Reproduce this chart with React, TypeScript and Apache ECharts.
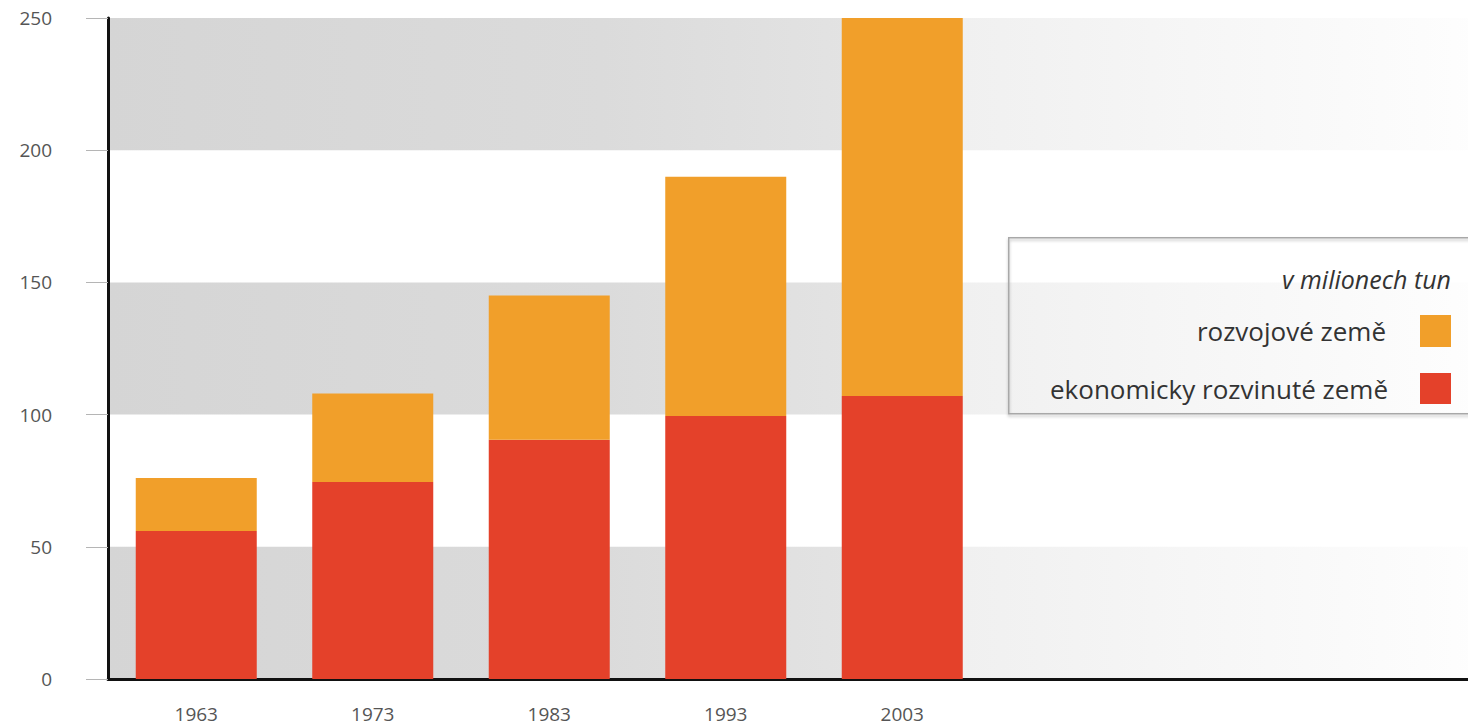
import React, { useEffect, useRef } from "react";
import * as echarts from "echarts";

const years = ["1963", "1973", "1983", "1993", "2003"];
const padCategories = ["", "", ""];
const developed = [56, 74.5, 90.5, 99.5, 107];
const developing = [20, 33.5, 54.5, 90.5, 143];
const yTicks = { min: 0, max: 250, interval: 50 };
const legendTitle = "v milionech tun";
const seriesNames = ["rozvojové země", "ekonomicky rozvinuté země"];

const ORANGE = "#f19f2a";
const RED = "#e4412a";
const FONT = "'Open Sans', 'Noto Sans', sans-serif";

export default function App() {
  const ref = useRef<HTMLDivElement>(null);
  useEffect(() => {
    if (!ref.current) return;
    const chart = echarts.init(ref.current, undefined, { renderer: "svg" });
    const bandGradient = new echarts.graphic.LinearGradient(0, 0, 1, 0, [
      { offset: 0, color: "#d5d5d5" },
      { offset: 0.35, color: "#dbdbdb" },
      { offset: 0.6, color: "#e6e6e6" },
      { offset: 0.605, color: "#f0f0f0" },
      { offset: 0.93, color: "#fcfcfc" },
      { offset: 1, color: "#ffffff" },
    ]);
    chart.setOption({
      animation: false,
      backgroundColor: "#ffffff",
      grid: { left: 108, top: 18, width: 1412, height: 661, containLabel: false },
      xAxis: {
        type: "category",
        data: [...years, ...padCategories],
        axisLine: { show: true, lineStyle: { color: "#111", width: 3 } },
        axisTick: { show: false },
        axisLabel: { color: "#555", fontSize: 19, fontFamily: FONT, margin: 25 },
        splitLine: { show: false },
      },
      yAxis: {
        type: "value",
        min: yTicks.min,
        max: yTicks.max,
        interval: yTicks.interval,
        axisLine: { show: true, lineStyle: { color: "#111", width: 3 } },
        axisTick: { show: true, length: 22, lineStyle: { color: "#b5b5b5", width: 1 } },
        axisLabel: {
          color: "#555",
          fontSize: 19,
          fontFamily: FONT,
          margin: 56,
          align: "right",
          padding: [8, 0, 0, 0],
        },
        splitLine: { show: false },
        splitArea: { show: true, areaStyle: { color: [bandGradient, "rgba(255,255,255,0)"] } },
      },
      series: [
        {
          name: seriesNames[1],
          type: "bar",
          stack: "total",
          barWidth: 121,
          data: developed,
          itemStyle: { color: RED },
        },
        {
          name: seriesNames[0],
          type: "bar",
          stack: "total",
          barWidth: 121,
          data: developing,
          itemStyle: { color: ORANGE },
        },
      ],
      graphic: [
        {
          type: "rect",
          left: 1008,
          top: 237,
          shape: { width: 480, height: 176 },
          style: {
            fill: "rgba(255,255,255,0)",
            stroke: "#a8a8a8",
            lineWidth: 1.5,
            shadowColor: "rgba(0,0,0,0.25)",
            shadowBlur: 3,
            shadowOffsetY: 2,
          },
          z: 10,
        },
        {
          type: "text",
          x: 1451,
          y: 279,
          style: {
            text: legendTitle,
            fill: "#333",
            font: `italic 25px ${FONT}`,
            align: "right",
            verticalAlign: "middle",
          },
          z: 11,
        },
        {
          type: "text",
          x: 1386,
          y: 331,
          style: {
            text: seriesNames[0],
            fill: "#333",
            font: `26px ${FONT}`,
            align: "right",
            verticalAlign: "middle",
          },
          z: 11,
        },
        {
          type: "rect",
          x: 1420,
          y: 315,
          shape: { width: 31, height: 32 },
          style: { fill: ORANGE },
          z: 11,
        },
        {
          type: "text",
          x: 1388,
          y: 389,
          style: {
            text: seriesNames[1],
            fill: "#333",
            font: `26px ${FONT}`,
            align: "right",
            verticalAlign: "middle",
          },
          z: 11,
        },
        {
          type: "rect",
          x: 1420,
          y: 373,
          shape: { width: 31, height: 31 },
          style: { fill: RED },
          z: 11,
        },
      ],
    });
    return () => chart.dispose();
  }, []);
  return (
    <div style={{ position: "absolute", left: 0, top: 0, width: 1468, height: 726, overflow: "hidden" }}>
      <div ref={ref} style={{ width: 1520, height: 726 }} />
    </div>
  );
}
